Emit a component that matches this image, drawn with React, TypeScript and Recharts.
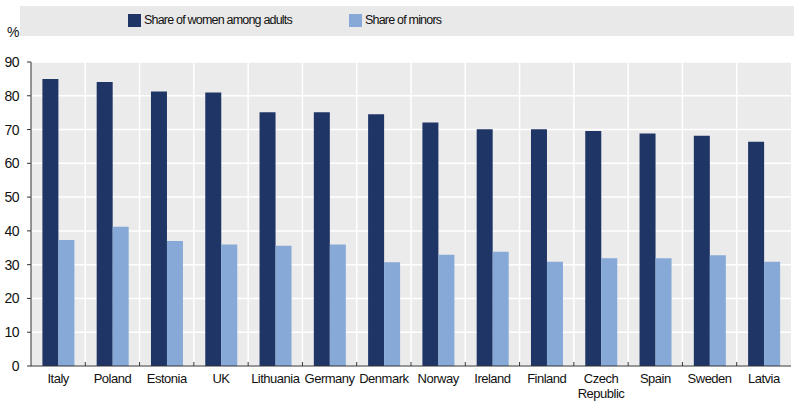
import { Bar, BarChart, CartesianGrid, XAxis, YAxis } from "recharts";

const countries = [
  "Italy", "Poland", "Estonia", "UK", "Lithuania", "Germany", "Denmark",
  "Norway", "Ireland", "Finland", "Czech Republic", "Spain", "Sweden", "Latvia",
];
const womenAmongAdults = [85, 84.1, 81.3, 81, 75.1, 75.1, 74.5, 72.1, 70.1, 70.1, 69.6, 68.8, 68.2, 66.4];
const shareOfMinors = [37.3, 41.2, 37, 36, 35.6, 36, 30.7, 32.9, 33.8, 30.9, 31.9, 31.9, 32.8, 30.9];
const yTicks = [0, 10, 20, 30, 40, 50, 60, 70, 80, 90];

const data = countries.map((name, i) => ({
  name,
  women: womenAmongAdults[i],
  minors: shareOfMinors[i],
}));

const DARK = "#1f3566";
const LIGHT = "#86a9d7";
const FONT = "'Liberation Sans', Arial, sans-serif";

const W = 794;
const H = 405;
const M = { top: 62, right: 3, left: 0, bottom: 9 };
const Y_W = 31;
const STEP = (W - M.left - M.right - Y_W) / countries.length;

// tick marks sit between categories, label stays centred
const CountryTick = (props: any) => {
  const { x, y, payload, index } = props;
  const words = payload.value === "Czech Republic" ? ["Czech", "Republic"] : [payload.value];
  return (
    <g>
      {index < countries.length - 1 && (
        <line x1={x + STEP / 2} x2={x + STEP / 2} y1={y - 12} y2={y - 8} stroke="#333" />
      )}
      <text x={x} y={y + 9} textAnchor="middle" fill="#111" fontSize={13} letterSpacing={-0.5} fontFamily={FONT}>
        {words.map((w, i) => (
          <tspan key={w} x={x} dy={i === 0 ? 0 : 15}>{w}</tspan>
        ))}
      </text>
    </g>
  );
};

const LegendBox = () => (
  <div style={{ position: "absolute", left: 0, top: 0, width: W, height: 50, fontFamily: FONT, fontSize: 12.5, letterSpacing: -0.8, color: "#111" }}>
    <div style={{ position: "absolute", left: 20, top: 6, width: W - 20, height: 30, background: "#e9e9e9" }} />
    <div style={{ position: "absolute", left: 128, top: 13, display: "flex", alignItems: "center" }}>
      <span style={{ width: 13, height: 13, background: DARK, marginRight: 3 }} />
      <span>Share of women among adults</span>
    </div>
    <div style={{ position: "absolute", left: 349, top: 13, display: "flex", alignItems: "center" }}>
      <span style={{ width: 13, height: 13, background: LIGHT, marginRight: 3 }} />
      <span>Share of minors</span>
    </div>
    <div style={{ position: "absolute", left: 7, top: 24, fontSize: 14, letterSpacing: 0 }}>%</div>
  </div>
);

export default function App() {
  return (
    <div style={{ position: "relative", width: W, height: H, background: "#fff" }}>
      <style>{"body{margin:0}"}</style>
      <BarChart width={W} height={H} data={data} margin={M} barCategoryGap="21%" barGap={0}>
        <CartesianGrid
          fill="#ebebeb"
          stroke="#ffffff"
          strokeWidth={1.5}
          verticalCoordinatesGenerator={({ offset }: any) =>
            countries.slice(1).map((_, i) => offset.left + ((i + 1) * offset.width) / countries.length)
          }
        />
        <XAxis
          dataKey="name"
          height={30}
          interval={0}
          tick={<CountryTick />}
          tickLine={false}
          axisLine={{ stroke: "#333" }}
        />
        <YAxis
          width={Y_W}
          domain={[0, 90]}
          ticks={yTicks}
          interval={0}
          tickSize={4}
          tickMargin={8}
          axisLine={{ stroke: "#333" }}
          tickLine={{ stroke: "#333" }}
          tick={{ fill: "#111", fontSize: 14, letterSpacing: -0.5, fontFamily: FONT }}
        />
        <Bar dataKey="women" fill={DARK} isAnimationActive={false} />
        <Bar dataKey="minors" fill={LIGHT} isAnimationActive={false} />
      </BarChart>
      <LegendBox />
    </div>
  );
}
